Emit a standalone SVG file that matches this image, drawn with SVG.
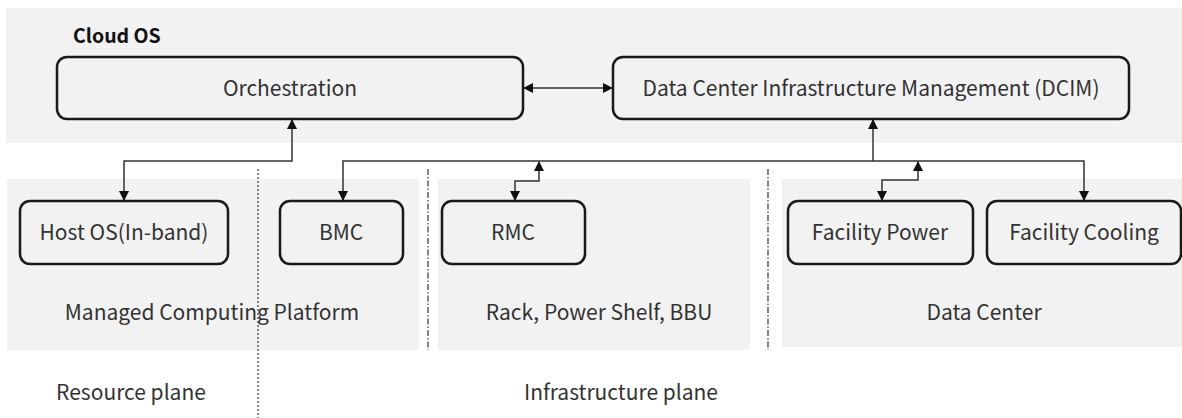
<svg xmlns="http://www.w3.org/2000/svg" width="1182" height="418" viewBox="0 0 1182 418">
<defs>
<style>
.band{fill:#f2f2f2}
.box{fill:#f2f2f2;stroke:#1a1a1a;stroke-width:2.5}
.t{font-family:"Noto Sans CJK SC","Noto Sans",sans-serif;font-size:21px;fill:#333;text-anchor:middle}
.b{font-family:"Noto Sans CJK SC","Noto Sans",sans-serif;font-size:19.5px;font-weight:bold;fill:#111}
.c{fill:none;stroke:#333;stroke-width:1.5}
.dot{fill:none;stroke:#444;stroke-width:1.3;stroke-dasharray:2 2}
.dd{fill:none;stroke:#444;stroke-width:1.3;stroke-dasharray:6 2 1.5 2}
</style>
<marker id="ah" viewBox="0 0 10 10" refX="9" refY="5" markerWidth="10" markerHeight="10" markerUnits="userSpaceOnUse" orient="auto-start-reverse">
<path d="M0,0 L10,5 L0,10 Z" fill="#111"/>
</marker>
</defs>
<g id="backgrounds">
<rect class="band" x="6" y="8" width="1176" height="135"/>
<rect class="band" x="7" y="179" width="412" height="171"/>
<rect class="band" x="438" y="179" width="312" height="171"/>
<rect class="band" x="782" y="179" width="400" height="168"/>
</g>
<g id="dividers">
<line class="dot" x1="258" y1="169" x2="258" y2="418"/>
<line class="dd" x1="428" y1="169" x2="428" y2="350"/>
<line class="dd" x1="768" y1="169" x2="768" y2="350"/>
</g>
<g id="cloud-os"><text class="b" x="73" y="43">Cloud OS</text></g>
<g id="orchestration">
<rect class="box" x="57" y="57" width="466" height="62" rx="10"/>
<text class="t" x="290" y="96">Orchestration</text>
</g>
<g id="dcim">
<rect class="box" x="613" y="57" width="516" height="62" rx="10"/>
<text class="t" x="871" y="96">Data Center Infrastructure Management (DCIM)</text>
</g>
<g id="host-os">
<rect class="box" x="20" y="201" width="208" height="63" rx="10"/>
<text class="t" x="124" y="240">Host OS(In-band)</text>
</g>
<g id="bmc">
<rect class="box" x="280" y="201" width="123" height="63" rx="10"/>
<text class="t" x="341" y="240">BMC</text>
</g>
<g id="rmc">
<rect class="box" x="442" y="201" width="143" height="63" rx="10"/>
<text class="t" x="513" y="240">RMC</text>
</g>
<g id="facility-power">
<rect class="box" x="788" y="201" width="185" height="63" rx="10"/>
<text class="t" x="880" y="240">Facility Power</text>
</g>
<g id="facility-cooling">
<rect class="box" x="987" y="201" width="194" height="63" rx="10"/>
<text class="t" x="1084" y="240">Facility Cooling</text>
</g>
<g id="labels">
<text class="t" x="212" y="320">Managed Computing Platform</text>
<text class="t" x="599" y="320">Rack, Power Shelf, BBU</text>
<text class="t" x="984" y="320">Data Center</text>
<text class="t" x="131" y="400">Resource plane</text>
<text class="t" x="621" y="400">Infrastructure plane</text>
</g>
<g id="connectors">
<line class="c" x1="524" y1="88" x2="612" y2="88" marker-start="url(#ah)" marker-end="url(#ah)"/>
<polyline class="c" points="124,200 124,161 292,161 292,120" marker-start="url(#ah)" marker-end="url(#ah)"/>
<polyline class="c" points="343,200 343,161 1084,161 1084,200" marker-start="url(#ah)" marker-end="url(#ah)"/>
<line class="c" x1="873" y1="161" x2="873" y2="120" marker-end="url(#ah)"/>
<polyline class="c" points="515,200 515,181 539,181 539,162" marker-start="url(#ah)" marker-end="url(#ah)"/>
<polyline class="c" points="882,200 882,180 918,180 918,162" marker-start="url(#ah)" marker-end="url(#ah)"/>
</g>
</svg>
